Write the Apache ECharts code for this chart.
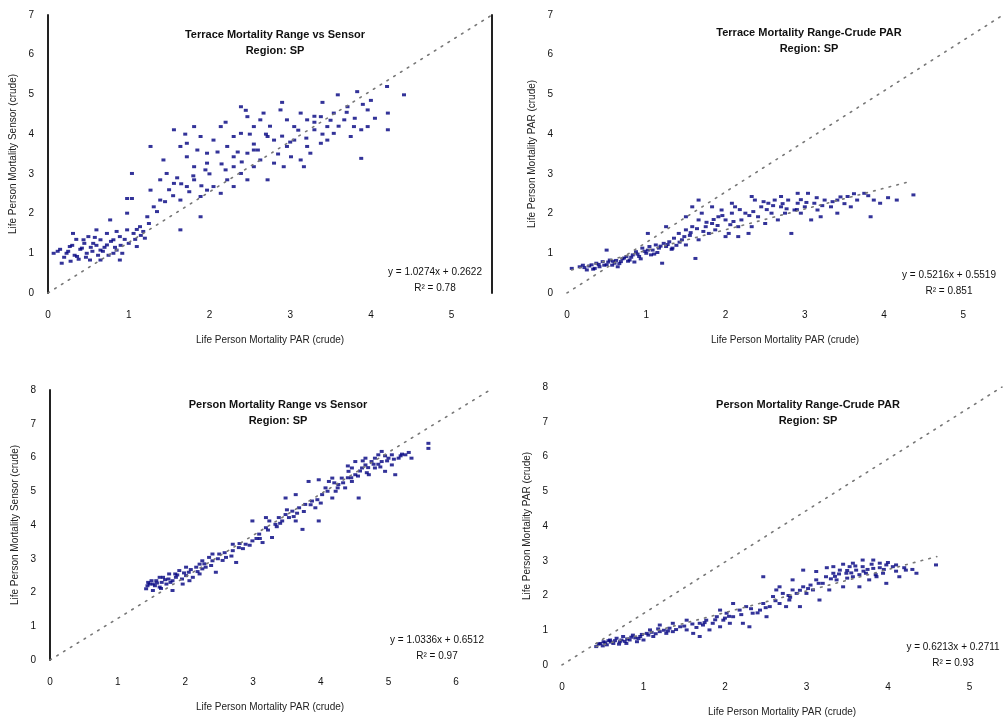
<!DOCTYPE html>
<html><head><meta charset="utf-8">
<script src="https://cdn.jsdelivr.net/npm/echarts@6/dist/echarts.min.js"></script>
<style>html,body{margin:0;padding:0;background:#fff}#c{width:1007px;height:719px}</style>
</head><body><div id="c"></div>
<script>
// ---- titles / labels ----
const titles = [
  "Terrace Mortality Range vs Sensor\nRegion: SP",
  "Terrace Mortality Range-Crude PAR\nRegion: SP",
  "Person Mortality Range vs Sensor\nRegion: SP",
  "Person Mortality Range-Crude PAR\nRegion: SP"
];
const xNames = [
  "Life Person Mortality PAR (crude)",
  "Life Person Mortality PAR (crude)",
  "Life Person Mortality PAR (crude)",
  "Life Person Mortality PAR (crude)"
];
const yNames = [
  "Life Person Mortality Sensor (crude)",
  "Life Person Mortality PAR (crude)",
  "Life Person Mortality Sensor (crude)",
  "Life Person Mortality PAR (crude)"
];
const equations = [
  "y = 1.0274x + 0.2622\nR² = 0.78",
  "y = 0.5216x + 0.5519\nR² = 0.851",
  "y = 1.0336x + 0.6512\nR² = 0.97",
  "y = 0.6213x + 0.2711\nR² = 0.93"
];
// ---- axis extents ----
const xMax = [5.5, 5.5, 6.5, 5.4];
const yMax = [7, 7, 8, 8];

// ---- reference (diagonal) lines ----
const diagTL = [[0,0],[5.5,7]];
const diagTR = [[0,0],[5.5,7]];
const diagBL = [[0,0],[6.5,8]];
const diagBR = [[0,0],[5.4,8]];
// ---- fitted trend lines ----
const fitTR = [[0.06,0.58],[4.35,2.82]];
const fitBR = [[0.42,0.53],[4.6,3.12]];

// ---- scatter data ----
const tlPoints = [
[0.07,1.00],[0.17,0.75],[0.27,1.17],[0.36,0.92],[0.42,1.13],[0.48,1.00],[0.52,0.83],[0.56,1.25],[0.65,1.08],[0.73,1.21],
[0.50,1.42],[0.60,1.59],[0.81,1.34],[0.85,1.08],[0.89,1.42],[0.98,1.59],[1.06,1.50],[1.14,1.67],[1.20,1.38],[1.10,1.17],
[0.98,2.01],[1.04,2.38],[1.23,1.92],[1.31,2.17],[1.27,2.59],[1.39,2.34],[1.56,2.76],[1.72,2.68],[1.81,2.85],[1.89,2.43],
[1.97,2.59],[2.05,2.68],[2.14,2.51],[2.22,2.85],[2.30,2.68],[2.39,3.01],[2.30,3.18],[2.47,2.85],[2.55,3.18],[2.63,3.35],
[2.72,2.85],[2.80,3.27],[2.92,3.18],[3.01,3.43],[3.13,3.35],[3.17,3.18],[3.25,3.52],[3.38,3.77],[3.46,3.85],[3.54,4.02],
[3.67,4.36],[3.79,4.19],[3.96,4.61],[4.21,4.53],[4.21,4.11],[3.88,4.11],[3.96,4.19],[3.75,3.94],[3.88,3.39],[3.59,4.99],
[3.83,5.07],[4.41,4.99],[1.27,3.69],[1.43,3.35],[1.56,4.11],[1.64,3.69],[1.81,4.19],[1.72,3.77],[1.89,3.94],[1.97,3.52],
[2.05,3.85],[2.14,4.19],[2.22,3.69],[2.30,3.94],[2.39,4.69],[2.47,4.44],[2.55,4.19],[2.63,4.36],[2.67,4.53],[2.72,3.94],
[2.80,3.85],[2.88,4.61],[2.96,4.36],[3.05,4.19],[3.13,4.53],[3.21,4.36],[3.30,4.11],[3.38,4.44],[3.46,4.19],[3.54,4.53],
[3.71,4.69],[3.05,3.85],[2.96,3.69],[3.21,3.69],[2.30,3.43],[2.47,3.52],[2.55,3.60],[2.39,4.02],[1.97,3.27],[1.81,3.18],
[1.72,3.43],[1.47,3.01],[1.64,2.34],[1.89,1.92],[1.64,1.59],[1.39,2.85],[1.04,3.01],[0.98,2.38],[0.77,1.84],[0.65,1.34],
[0.89,0.83],[0.81,1.00],[0.73,1.50],[0.44,1.34],[0.31,1.50],[0.23,1.00],[0.65,0.83],
[0.12,1.05],[0.20,0.90],[0.30,1.20],[0.38,0.85],[0.45,1.25],[0.55,1.05],[0.62,0.95],[0.70,1.15],[0.78,1.30],[0.90,1.20],
[0.95,1.35],[1.15,1.45],[0.35,1.35],[0.58,1.40],[0.28,0.80],[1.50,2.60],[1.60,2.90],[1.75,2.55],[1.90,2.70],[2.00,3.00],
[2.20,3.10],[2.40,3.30],[2.60,3.60],[2.85,3.50],[3.00,3.80],[3.20,3.90],[3.40,4.00],[3.60,4.20],[3.80,4.40],[2.50,4.00],
[2.75,4.20],[3.30,4.30],[2.10,3.55],[1.85,3.60],[4.20,5.20],
[0.15,1.10],[0.25,1.05],[0.33,0.95],[0.40,1.10],[0.47,0.90],[0.53,1.15],[0.60,1.20],[0.68,1.05],[0.75,0.95],[0.83,1.15],
[0.92,1.00],[1.00,1.25],[1.08,1.35],[1.18,1.55],[1.25,1.75],[1.35,2.05],[1.45,2.30],[1.55,2.45],[1.65,2.75],[1.80,2.95],
[1.95,3.10],[2.15,3.25],[2.35,3.55],[2.55,3.75],[2.70,4.00],[2.90,3.95],[3.10,4.10],[3.30,4.45],[3.50,4.35],[3.70,4.55],
[3.90,4.75],[4.05,4.40],[2.45,4.60],[2.20,4.30],[1.70,4.00],[2.90,4.80],[3.40,4.80],[4.00,4.85],[1.10,1.60],[0.85,1.55]
];
const trPoints = [
[0.06,0.62],[0.16,0.66],[0.25,0.58],[0.31,0.71],[0.37,0.75],[0.41,0.66],[0.45,0.79],[0.50,0.71],[0.54,0.83],[0.60,0.75],
[0.64,0.66],[0.68,0.79],[0.50,1.08],[0.75,0.92],[0.79,0.83],[0.83,0.96],[0.87,1.04],[0.91,0.92],[0.95,1.13],[1.00,1.00],
[1.04,1.17],[1.08,1.08],[1.12,1.21],[1.16,1.13],[1.20,0.75],[1.25,1.17],[1.29,1.29],[1.35,1.38],[1.41,1.50],[1.45,1.34],
[1.50,1.59],[1.58,1.67],[1.62,0.87],[1.66,1.84],[1.70,2.01],[1.75,1.67],[1.79,1.50],[1.83,1.75],[1.87,1.59],[1.91,1.92],
[1.95,2.09],[2.00,1.84],[2.04,1.50],[2.08,2.01],[2.12,2.17],[2.16,1.67],[2.20,1.84],[2.25,2.01],[2.29,1.50],[2.33,1.67],
[2.37,2.34],[2.41,1.92],[2.45,2.17],[2.50,1.75],[2.54,2.26],[2.58,2.01],[2.62,2.34],[2.66,1.84],[2.70,2.17],[2.75,2.01],
[2.79,2.34],[2.83,1.50],[2.87,2.09],[2.91,2.26],[2.95,2.01],[3.00,2.17],[3.04,2.51],[3.08,1.84],[3.12,2.26],[3.16,2.09],
[3.20,1.92],[3.25,2.34],[3.33,2.17],[3.41,2.01],[3.41,2.34],[3.54,2.43],[3.58,2.17],[3.66,2.34],[3.75,2.51],[3.83,1.92],
[3.87,2.34],[3.95,2.26],[4.16,2.34],[4.37,2.47],[1.02,1.50],[1.25,1.67],[1.58,2.17],[1.66,2.34],[1.83,2.17],[2.08,2.26],
[2.33,2.43],[2.91,2.51],[2.70,2.43],[2.00,1.42],[2.16,1.42],[1.33,1.13],[1.50,1.21],[1.66,1.34],[1.50,1.92],
[0.20,0.70],[0.35,0.62],[0.58,0.80],[0.72,0.88],[0.85,0.78],[0.98,1.05],[1.10,0.98],[1.22,1.25],[1.38,1.20],[1.55,1.45],
[1.72,1.55],[1.90,1.70],[2.10,1.80],[2.30,1.95],[2.52,2.10],[2.72,2.25],[2.95,2.35],[3.15,2.40],[3.35,2.30],[3.50,2.25],
[0.22,0.64],[0.28,0.68],[0.33,0.60],[0.40,0.72],[0.47,0.70],[0.52,0.78],[0.57,0.70],[0.62,0.82],[0.66,0.74],[0.70,0.86],
[0.77,0.80],[0.81,0.90],[0.89,0.98],[0.93,0.86],[1.02,1.08],[1.06,0.96],[1.14,1.02],[1.18,1.18],[1.27,1.22],[1.32,1.10],
[1.42,1.28],[1.48,1.42],[1.56,1.52],[1.64,1.62],[1.76,1.78],[1.85,1.85],[1.96,1.95],[2.06,1.72],[2.18,2.10],[2.35,2.05],
[2.48,2.30],[2.60,2.20],[2.77,2.12],[2.90,2.10],[3.02,2.28],[3.22,2.20],[3.45,2.42],[3.62,2.50],[3.80,2.45],[4.05,2.40]
];
const blPoints = [
[1.42,2.11],[1.47,2.25],[1.52,2.06],[1.57,2.35],[1.62,2.16],[1.67,2.45],[1.72,2.25],[1.76,2.55],[1.81,2.35],[1.86,2.45],
[1.91,2.65],[1.96,2.25],[2.01,2.50],[2.06,2.35],[2.11,2.45],[2.16,2.75],[2.21,2.84],[2.25,2.94],[2.30,2.75],[2.35,3.04],
[2.40,2.94],[2.45,2.60],[2.50,3.14],[2.60,3.04],[2.70,3.24],[2.75,2.89],[2.79,3.33],[2.89,3.43],[2.99,3.53],[3.09,3.73],
[3.14,3.48],[3.19,3.92],[3.24,4.12],[3.28,3.63],[3.33,4.02],[3.38,4.22],[3.43,4.12],[3.48,4.31],[3.53,4.22],[3.58,4.41],
[3.63,4.12],[3.68,4.51],[3.73,3.87],[3.77,4.61],[3.87,4.71],[3.92,4.51],[3.97,4.12],[4.02,4.90],[4.07,5.10],[4.12,5.29],
[4.17,4.80],[4.22,5.00],[4.26,5.20],[4.31,5.39],[4.36,5.10],[4.41,5.59],[4.46,5.29],[4.51,5.49],[4.56,4.80],[4.61,5.69],
[4.66,5.78],[4.71,5.49],[4.75,5.88],[4.80,5.69],[4.85,6.08],[4.90,5.88],[4.95,5.59],[5.00,5.98],[5.05,5.78],[5.10,5.49],
[5.15,5.98],[5.25,6.08],[5.34,5.98],[5.59,6.42],[5.59,6.27],[3.82,5.29],[3.97,5.34],[4.17,5.39],[3.48,4.80],[3.63,4.90],
[3.19,4.22],[2.99,4.12],[2.70,3.43],[2.40,3.14],[2.21,2.55],[2.01,2.75],[1.81,2.06],[1.62,2.45],[1.52,2.25],[4.66,5.98],
[4.46,5.69],[4.80,5.98],[5.05,6.08],[4.90,6.18],[4.51,5.88],
[1.45,2.30],[1.55,2.20],[1.65,2.30],[1.75,2.40],[1.85,2.55],[1.95,2.40],[2.05,2.60],[2.25,2.70],[2.55,2.95],[2.85,3.30],
[3.05,3.60],[3.35,3.95],[3.65,4.35],[3.95,4.75],[4.25,5.10],[4.55,5.45],[4.85,5.80],[5.20,6.10],[4.70,5.70],[4.40,5.40],
[1.44,2.20],[1.50,2.35],[1.58,2.28],[1.64,2.12],[1.70,2.38],[1.78,2.30],[1.88,2.52],[1.98,2.58],[2.08,2.68],[2.18,2.62],
[2.28,2.85],[2.38,2.80],[2.48,3.00],[2.58,3.18],[2.68,3.08],[2.80,3.45],[2.95,3.40],[3.10,3.60],[3.22,3.85],[3.40,4.05],
[3.50,4.45],[3.60,4.25],[3.75,4.40],[3.85,4.60],[4.00,4.65],[4.10,5.00],[4.20,5.25],[4.33,5.25],[4.45,5.40],[4.58,5.60],
[4.68,5.55],[4.78,5.80],[4.88,5.72],[4.98,5.90],[5.08,5.95],[5.18,6.05],[5.30,6.15],[4.62,5.90],[4.95,6.05],[4.40,5.75]
];
const brPoints = [
[0.42,0.53],[0.47,0.62],[0.51,0.67],[0.55,0.58],[0.59,0.72],[0.63,0.62],[0.67,0.77],[0.71,0.67],[0.75,0.82],[0.79,0.62],
[0.83,0.72],[0.87,0.86],[0.92,0.67],[0.96,0.82],[1.00,0.72],[1.04,0.91],[1.08,1.01],[1.12,0.82],[1.20,0.96],[1.28,0.91],
[1.32,1.06],[1.36,0.96],[1.45,1.10],[1.53,1.01],[1.61,0.91],[1.69,0.82],[1.73,1.15],[1.77,1.29],[1.81,1.01],[1.85,1.20],
[1.90,1.39],[1.94,1.10],[1.98,1.29],[2.02,1.49],[2.06,1.20],[2.10,1.39],[2.18,1.58],[2.22,1.20],[2.26,1.68],[2.30,1.10],
[2.34,1.49],[2.43,1.58],[2.47,1.77],[2.51,1.39],[2.55,1.68],[2.59,1.97],[2.67,1.77],[2.71,2.06],[2.75,1.68],[2.79,1.87],
[2.83,2.16],[2.88,2.06],[2.92,1.68],[2.96,2.25],[3.00,2.06],[3.08,2.16],[3.12,2.45],[3.16,1.87],[3.20,2.35],[3.24,2.54],
[3.28,2.16],[3.33,2.64],[3.37,2.45],[3.41,2.73],[3.45,2.25],[3.49,2.64],[3.53,2.83],[3.57,2.54],[3.61,2.73],[3.65,2.25],
[3.69,2.83],[3.73,2.64],[3.77,2.45],[3.82,2.78],[3.86,2.54],[3.90,2.93],[3.94,2.64],[3.98,2.35],[4.06,2.83],[4.14,2.54],
[4.22,2.73],[4.35,2.64],[4.59,2.88],[2.96,2.73],[3.12,2.69],[3.33,2.83],[2.67,2.25],[2.83,2.45],[2.47,2.54],[2.63,2.16],
[2.10,1.77],[1.94,1.58],[1.69,1.20],[1.53,1.29],[1.36,1.20],[1.20,1.15],[3.57,2.93],[3.82,3.02],[3.69,3.02],[3.98,2.88],
[0.50,0.55],[0.60,0.66],[0.70,0.60],[0.80,0.75],[0.90,0.78],[1.15,0.90],[1.40,1.02],[1.65,1.08],[2.00,1.35],[2.40,1.50],
[2.80,1.95],[3.05,2.30],[3.35,2.55],[3.55,2.65],[3.75,2.75],[3.95,2.75],[4.10,2.70],[3.45,2.90],[3.25,2.80],[3.85,2.60],
[0.45,0.60],[0.53,0.64],[0.57,0.70],[0.65,0.70],[0.73,0.72],[0.77,0.68],[0.85,0.80],[0.94,0.76],[0.98,0.88],[1.06,0.86],
[1.10,0.94],[1.18,1.04],[1.25,1.00],[1.30,0.98],[1.50,1.12],[1.60,1.18],[1.75,1.22],[1.88,1.30],[2.05,1.40],[2.20,1.45],
[2.32,1.62],[2.50,1.65],[2.62,1.85],[2.78,2.00],[2.92,2.15],[3.02,2.20],[3.15,2.35],[3.30,2.48],[3.40,2.62],[3.50,2.72],
[3.60,2.85],[3.70,2.70],[3.80,2.90],[3.90,2.80],[4.00,2.95],[4.10,2.88],[4.20,2.80],[4.30,2.75],[3.65,2.60],[3.50,2.50]
];

const scatterSets = [tlPoints, trPoints, blPoints, brPoints];
const diagSets = [diagTL, diagTR, diagBL, diagBR];
const fitSets = [null, fitTR, null, fitBR];

// ---- layout ----
const grids = [
  {left: 48, top: 15, width: 444, height: 278},
  {left: 567, top: 15, width: 436, height: 278},
  {left: 50, top: 390, width: 440, height: 270},
  {left: 562, top: 387, width: 440, height: 278}
];
const titlePos = [[270,22],[804,20],[273,392],[803,392]];
const eqPos = [[430,259],[944,262],[432,627],[948,634]];
const FONT = "Liberation Sans";

const chart = echarts.init(document.getElementById('c'), null, {renderer: 'canvas'});
const xAxes = [], yAxes = [], series = [], title = [];
for (let i = 0; i < 4; i++) {
  xAxes.push({
    type: 'value', gridIndex: i, min: 0, max: xMax[i], interval: 1,
    name: xNames[i], nameLocation: 'middle', nameGap: 42,
    nameTextStyle: {fontFamily: FONT, fontSize: 10, color: '#222'},
    axisLine: {show: false}, axisTick: {show: false}, splitLine: {show: false},
    axisLabel: {fontFamily: FONT, fontSize: 10, color: '#111', margin: 17, showMaxLabel: false}
  });
  yAxes.push({
    type: 'value', gridIndex: i, min: 0, max: yMax[i], interval: 1,
    name: yNames[i], nameLocation: 'middle', nameGap: 30,
    nameTextStyle: {fontFamily: FONT, fontSize: 10, color: '#222'},
    axisLine: {show: (i === 0 || i === 2), lineStyle: {color: '#222', width: 2}},
    axisTick: {show: false}, splitLine: {show: false},
    axisLabel: {fontFamily: FONT, fontSize: 10, color: '#111', margin: 14}
  });
  series.push({
    type: 'line', xAxisIndex: i, yAxisIndex: i, data: diagSets[i],
    symbol: 'none', silent: true,
    lineStyle: {color: '#777', width: 1.6, type: [1.6, 6.4], cap: 'round'}
  });
  if (fitSets[i]) {
    series.push({
      type: 'line', xAxisIndex: i, yAxisIndex: i, data: fitSets[i],
      symbol: 'none', silent: true,
      lineStyle: {color: '#777', width: 1.6, type: [1.6, 6.4], cap: 'round'}
    });
  }
  series.push({
    type: 'scatter', xAxisIndex: i, yAxisIndex: i, data: scatterSets[i],
    symbol: 'rect', symbolSize: [4, 3], itemStyle: {color: '#000080'}
  });
  title.push({
    text: titles[i], left: titlePos[i][0], top: titlePos[i][1], textAlign: 'center',
    textStyle: {fontFamily: FONT, fontSize: 11, fontWeight: 'bold', color: '#111', lineHeight: 16}
  });
  title.push({
    text: equations[i], left: eqPos[i][0], top: eqPos[i][1], textAlign: 'center',
    textStyle: {fontFamily: FONT, fontSize: 10, fontWeight: 'normal', color: '#111', lineHeight: 16}
  });
}
// right border line of top-left panel
yAxes.push({
  type: 'value', gridIndex: 0, position: 'right', min: 0, max: yMax[0], interval: 1,
  axisLine: {show: true, lineStyle: {color: '#222', width: 2}},
  axisTick: {show: false}, axisLabel: {show: false}, splitLine: {show: false}
});

chart.setOption({
  animation: false,
  backgroundColor: '#fff',
  title: title,
  grid: grids,
  xAxis: xAxes,
  yAxis: yAxes,
  series: series
});
</script>
</body></html>
